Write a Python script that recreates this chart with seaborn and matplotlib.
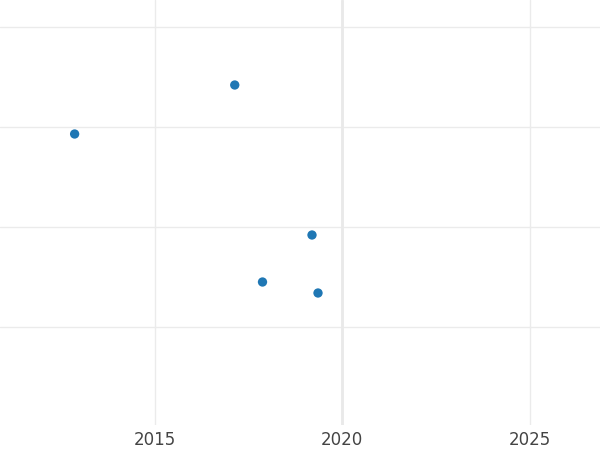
import pandas as pd
import matplotlib.pyplot as plt
import seaborn as sns

# data
years = [2012.86, 2017.13, 2019.19, 2017.87, 2019.35]
values = [2.93, 3.42, 1.92, 1.45, 1.34]
xticks = [2015, 2020, 2025]

df = pd.DataFrame({'Year': years, 'Value': values})

sns.set_theme(style="white")
plt.rcParams['font.family'] = ['DejaVu Sans']

fig = plt.figure(figsize=(6, 4.5), dpi=100)
ax = fig.add_axes([0, 25 / 450, 1, 425 / 450])

sns.scatterplot(x='Year', y='Value', data=df, color='#1f77b4', s=45,
                edgecolor='none', ax=ax, zorder=3)

ax.set_xlim(2010.87, 2026.87)
ax.set_ylim(0.02, 4.27)
ax.set_xticks(xticks)
ax.set_yticks([1, 2, 3, 4])
ax.set_yticklabels([])
ax.grid(True, color='#ebebeb', linewidth=1)
ax.axvline(2020, color='#e9e9e9', linewidth=2, zorder=1)
ax.tick_params(axis='both', length=0)
ax.tick_params(axis='x', labelsize=12, labelcolor='#444444', pad=4)
ax.set_xlabel('')
ax.set_ylabel('')
for s in ax.spines.values():
    s.set_visible(False)

fig.savefig('out.png')
